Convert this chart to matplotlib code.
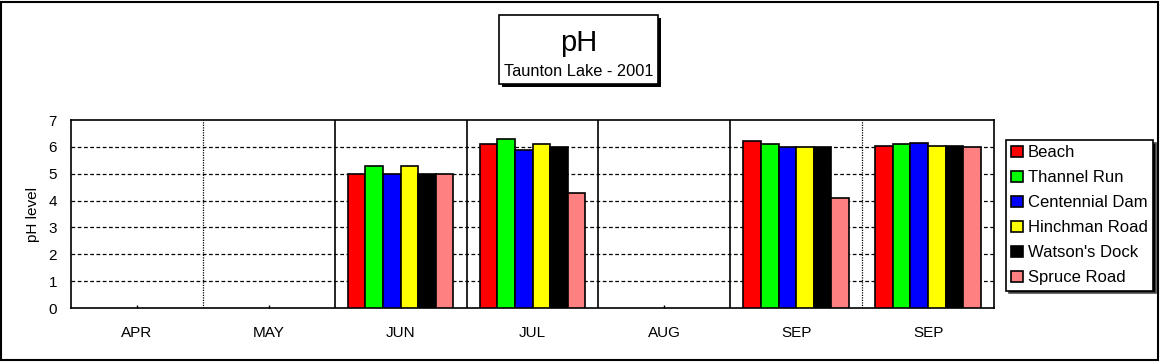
import numpy as np
import matplotlib
matplotlib.use("Agg")
import matplotlib.pyplot as plt
from matplotlib.patches import Rectangle

plt.rcParams['font.family'] = ['Liberation Sans', 'DejaVu Sans']

months = ["APR", "MAY", "JUN", "JUL", "AUG", "SEP", "SEP"]
sites = ["Beach", "Thannel Run", "Centennial Dam", "Hinchman Road",
         "Watson's Dock", "Spruce Road"]
colors = ["#ff0000", "#00ff00", "#0000ff", "#ffff00", "#000000", "#ff8080"]

# pH per site, one value per month column (nan = no sample)
beach = [np.nan, np.nan, 5.0, 6.1, np.nan, 6.2, 6.05]
thannel = [np.nan, np.nan, 5.3, 6.3, np.nan, 6.1, 6.12]
centennial = [np.nan, np.nan, 5.0, 5.9, np.nan, 6.0, 6.15]
hinchman = [np.nan, np.nan, 5.3, 6.1, np.nan, 6.0, 6.05]
watson = [np.nan, np.nan, 5.0, 6.0, np.nan, 6.0, 6.05]
spruce = [np.nan, np.nan, 5.0, 4.3, np.nan, 4.1, 6.0]
series = [beach, thannel, centennial, hinchman, watson, spruce]

W, H = 1161, 362
fig = plt.figure(figsize=(W / 100, H / 100), dpi=100)
ax = fig.add_axes([71 / W, (H - 308) / H, (994 - 71) / W, (308 - 120) / H])

x = np.arange(len(months)) + 0.5
bw = 0.8 / len(sites)
handles = []
for k, (vals, c, name) in enumerate(zip(series, colors, sites)):
    b = ax.bar(x + (k - 2.5) * bw, vals, width=bw, color=c,
               edgecolor="black", linewidth=1.2, label=name, zorder=3)
    handles.append(b)

ax.set_xlim(0, len(months))
ax.set_ylim(0, 7)
ax.set_yticks(range(8))
ax.set_xticks(x)
ax.set_xticklabels(months, fontsize=11)
ax.tick_params(axis="y", length=0, pad=10, labelsize=11)
ax.tick_params(axis="x", direction="in", length=2.5, width=1, pad=13)

for yv in range(1, 7):
    ax.axhline(yv, color="black", lw=0.9, ls=(0, (3, 2)), zorder=1)
for i in range(1, len(months)):
    if i in (1, 6):
        ax.axvline(i, color="black", lw=0.9, ls=(0, (1, 1)), zorder=1)
    else:
        ax.axvline(i, color="black", lw=1.2, zorder=1)
for s in ax.spines.values():
    s.set_linewidth(1.2)

ax.set_ylabel("pH level", fontsize=11)
ax.yaxis.set_label_coords(-0.034, 0.5)

leg = fig.legend(handles=handles, loc="upper left",
                 bbox_to_anchor=(1006 / W, (H - 140) / H), borderaxespad=0,
                 fontsize=12, frameon=True, fancybox=False,
                 edgecolor="black", framealpha=1,
                 shadow={"facecolor": "black", "alpha": 1},
                 handlelength=0.7, handleheight=0.7, handletextpad=0.3,
                 labelspacing=0.6, borderpad=0.32)
leg.get_frame().set_linewidth(1.2)


def box(x0, y0, x1, y1, shadow=3):
    # pixel coords, y measured from top
    if shadow:
        fig.add_artist(Rectangle((x0 + shadow, H - y1 - shadow), x1 - x0, y1 - y0,
                                 transform=None, facecolor="black",
                                 edgecolor="black", lw=0))
    fig.add_artist(Rectangle((x0, H - y1), x1 - x0, y1 - y0, transform=None,
                             facecolor="white", edgecolor="black", lw=1.2))


# transform=None means display (pixel) coords
box(499, 15, 658, 84)
fig.text(579 / W, (H - 43) / H, "pH", fontsize=21, ha="center", va="center")
fig.text(579 / W, (H - 71) / H, "Taunton Lake - 2001", fontsize=11.8,
         ha="center", va="center")

fig.add_artist(Rectangle((1, 2), 1157, 358, transform=None, fill=False,
                         edgecolor="black", lw=1.5))

fig.savefig("out.png", dpi=100)
